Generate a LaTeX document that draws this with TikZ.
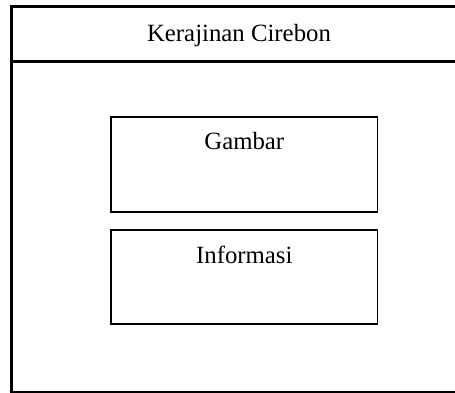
\documentclass[tikz,border=0pt]{standalone}
\usepackage{fontspec}
\setmainfont{Liberation Serif}
\usepackage{tikz}
\usetikzlibrary{positioning}

\begin{document}
\begin{tikzpicture}[x=1pt,y=-1pt]
\tikzstyle{every node}=[font=\fontsize{24.8}{29}\selectfont,inner sep=0pt]
\tikzstyle{panel}=[draw,line width=1.8pt,minimum width=266.5pt,minimum height=94.5pt]
\useasboundingbox (0,0) rectangle (455,392);
% page frame and header bar
\draw[line width=2.2pt] (470,6.5) -- (11.5,6.5) -- (11.5,392.5) -- (470,392.5);
\draw[line width=2.2pt] (11.5,61.5) -- (470,61.5);
\node[anchor=base] (title) at (239,41.7) {Kerajinan Cirebon};
% content boxes
\node[panel] (gambar) at (244.3,164.5) {};
\node[panel] (info) at (244.3,277) {};
\node[anchor=base] (gambartext) at ([yshift=-33.6pt]gambar.north) {Gambar};
\node[anchor=base] (infotext) at ([yshift=-34.2pt]info.north) {Informasi};
\end{tikzpicture}
\end{document}
